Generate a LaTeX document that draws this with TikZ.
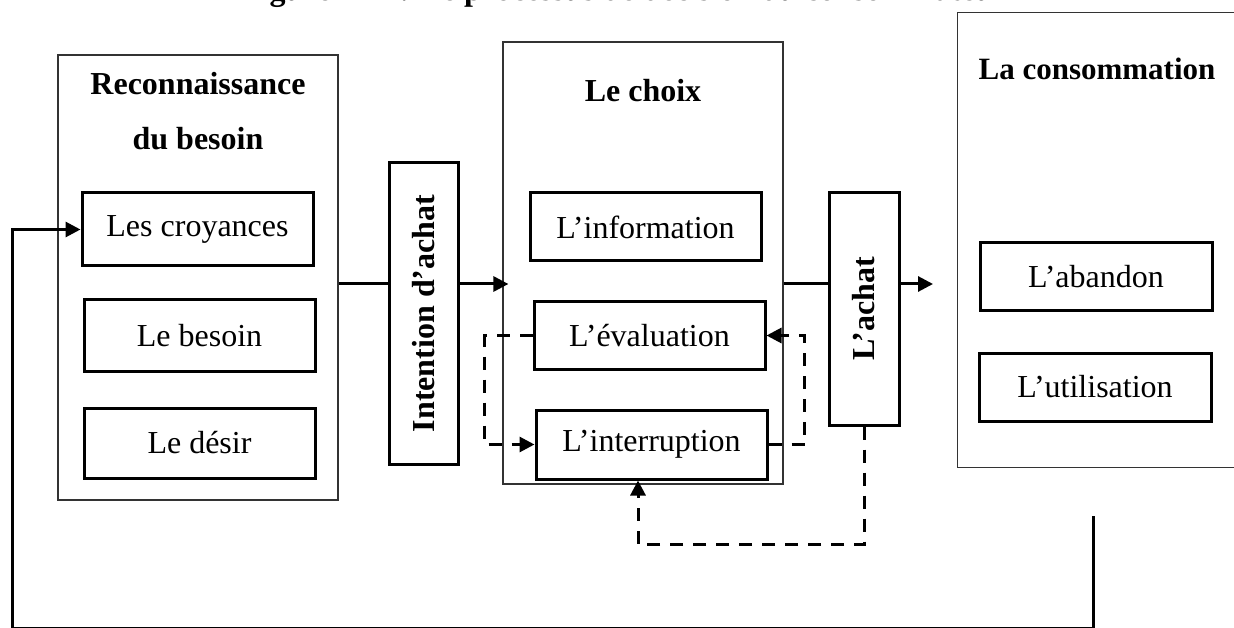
\documentclass[tikz,border=0pt]{standalone}
\usepackage{fontspec}
\setmainfont{Liberation Serif}
\usetikzlibrary{arrows.meta}
\begin{document}
\begin{tikzpicture}[x=1pt,y=-1pt,
  txt/.style={font=\fontsize{32}{38}\selectfont},
  ttl/.style={font=\bfseries\fontsize{32}{38}\selectfont},
  outerbox/.style={draw=black!80,line width=1.2pt,inner sep=0pt},
  itembox/.style={draw=black,line width=3pt,inner sep=0pt,txt,minimum width=231pt},
  vbox/.style={draw=black,line width=3pt,inner sep=0pt,ttl,minimum width=69pt},
  conn/.style={line width=3pt,draw=black},
  tip/.style={-{Triangle[length=15pt,width=15pt]}},
  dline/.style={line width=3pt,draw=black,dash pattern=on 13pt off 10pt}]
\useasboundingbox (0,0) rectangle (1234,628);
\clip (0,0) rectangle (1234,628);

% heading of the figure, running off the top edge
\node[ttl,anchor=base west,inner sep=0pt] (title) at (241,0.2) {Figure N°1 : Le processus de décision du consommateur};

% stage frames
\node[outerbox,minimum width=280pt,minimum height=445pt] (recon) at (198,277.5) {};
\node[outerbox,minimum width=280pt,minimum height=442pt] (choice) at (643,263) {};
\node[outerbox,minimum width=300pt,minimum height=455pt,anchor=north west] (conso) at (957,12) {};

% stage headings
\node[ttl,anchor=base] (reconA) at (198,95) {Reconnaissance};
\node[ttl,anchor=base] (reconB) at (198,150) {du besoin};
\node[ttl,anchor=base] (choiceT) at (643,102) {Le choix};
\node[ttl,anchor=base,font=\bfseries\fontsize{31}{37}\selectfont] (consoT) at (1097,80) {La consommation};

% first stage items
\node[itembox,minimum height=73pt] (croy) at (197.5,229.5) {Les croyances};
\node[itembox,minimum height=71pt] (besoin) at (199.5,335.5) {Le besoin};
\node[itembox,minimum height=70pt] (desir) at (199.5,443) {Le désir};

% second stage items
\node[itembox,minimum height=68pt] (info) at (645.5,227) {L’information};
\node[itembox,minimum height=67pt] (eval) at (649.5,335.5) {L’évaluation};
\node[itembox,minimum height=69pt] (interr) at (651.5,444.5) {L’interruption};

% third stage items
\node[itembox,minimum width=232pt,minimum height=68pt] (aband) at (1096,277) {L’abandon};
\node[itembox,minimum width=232pt,minimum height=68pt] (util) at (1095,387) {L’utilisation};

% transition boxes with upright text
\node[vbox,minimum height=301pt] (intent) at (423.5,313.5) {\rotatebox{90}{Intention d’achat}};
\node[vbox,minimum width=70pt,minimum height=232pt] (achat) at (864,309) {\rotatebox{90}{L’achat}};

% main flow
\coordinate (flow) at (0,284);
\draw[conn] (recon.east |- flow) -- (intent.west |- flow);
\draw[conn,tip] (intent.east |- flow) -- ([xshift=6pt]choice.west |- flow);
\draw[conn] (choice.east |- flow) -- (achat.west |- flow);
\draw[conn,tip,shorten >=24pt] (achat.east |- flow) -- (conso.west |- flow);

% loops inside the choice stage
\draw[dline,tip] (eval.west) -- ++(-48,0) |- (interr.west);
\draw[dline,tip] (interr.east) -- ++(36,0) |- (eval.east);
\draw[dline,tip] (achat.south) -- ++(0,118) -| ([xshift=-13.5pt]interr.south);

% feedback from consumption to the first stage
\coordinate (fb) at (1093,516);
\draw[conn,tip] (fb) -- (1093,628) -- (12,628) |- (croy.west);
\end{tikzpicture}
\end{document}
